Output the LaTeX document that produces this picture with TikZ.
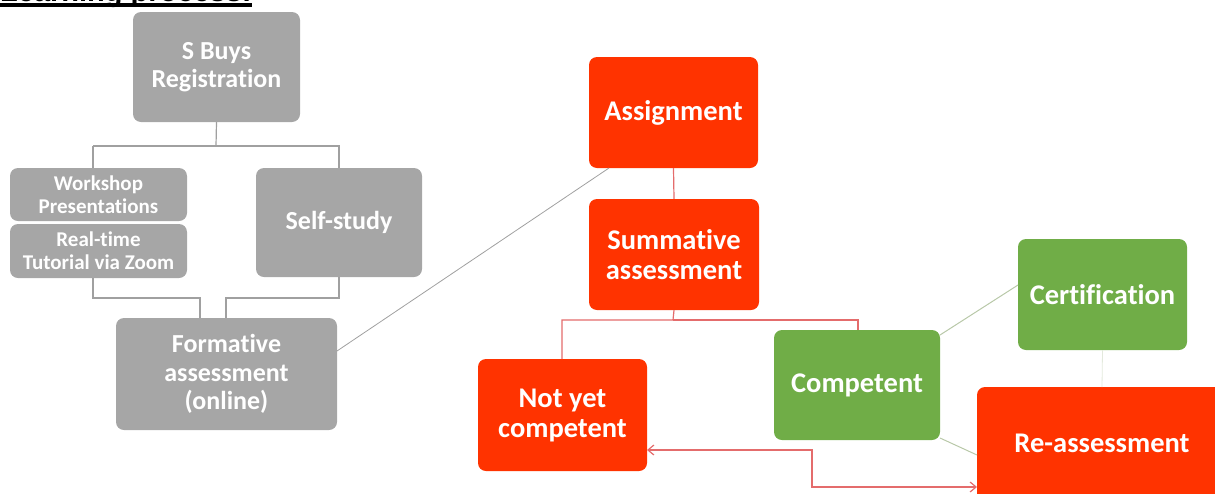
\documentclass[tikz,border=0pt]{standalone}
\usepackage{fontspec}
\setmainfont{Carlito}[RawFeature={-liga;-clig;-calt;-dlig}]
\newfontfamily\titlefont{Liberation Sans}
\usetikzlibrary{arrows.meta}
\definecolor{boxgray}{HTML}{A6A6A6}
\definecolor{boxred}{HTML}{FF3300}
\definecolor{boxgreen}{HTML}{70AD47}
\definecolor{lngray}{HTML}{A0A0A0}
\definecolor{lnred}{HTML}{E46C6C}
\definecolor{lngreen}{HTML}{B8C8A8}
\tikzset{
  box/.style={rounded corners=8pt, text=white, font=\bfseries, align=center, inner sep=0pt},
  gbox/.style={box, fill=boxgray},
  rbox/.style={box, fill=boxred},
  grbox/.style={box, fill=boxgreen},
  big/.style={font=\fontsize{26}{28.5}\selectfont\bfseries},
  bigger/.style={font=\fontsize{28.5}{30}\selectfont\bfseries},
  small/.style={font=\fontsize{21}{23}\selectfont\bfseries},
  gline/.style={draw=lngray, line width=1.2pt},
  rline/.style={draw=lnred, line width=1.2pt},
  grline/.style={draw=lngreen, line width=1pt},
  arr/.style={rline, {Straight Barb[length=6pt,width=10pt]}-{Straight Barb[length=6pt,width=10pt]}}
}
\begin{document}
\begin{tikzpicture}[x=1pt,y=-1pt]
\useasboundingbox (0,0) rectangle (1215,493);
\clip (0,0) rectangle (1215,493);
% title (cut off at top, as in the reference)
\node[anchor=base west, inner sep=0pt, font=\titlefont\fontsize{29}{32}\selectfont\bfseries] (title) at (0,1.5) {Learning process:};
\fill (0,2.5) rectangle (title.east |- 0,6.5);
% nodes
\node[gbox, big, minimum width=167pt, minimum height=110pt] (reg) at (216.5,67) {S Buys\\Registration};
\node[gbox, small, minimum width=177pt, minimum height=53pt] (work) at (98.5,194.5) {Workshop\\Presentations};
\node[gbox, small, minimum width=177pt, minimum height=54pt] (zoom) at (98.5,251) {Real-time\\Tutorial via Zoom};
\node[gbox, big, minimum width=166pt, minimum height=109pt] (self) at (339,222.5) {Self-study};
\node[gbox, big, minimum width=221pt, minimum height=112pt] (form) at (226.5,374) {Formative\\assessment\\(online)};
\node[rbox, bigger, minimum width=169pt, minimum height=111pt] (assign) at (673.5,112.5) {Assignment};
\node[rbox, bigger, minimum width=170pt, minimum height=111pt] (summ) at (674,254.5) {Summative\\assessment};
\node[rbox, bigger, minimum width=169pt, minimum height=112pt] (nyc) at (562.5,415) {Not yet\\competent};
\node[grbox, bigger, minimum width=166pt, minimum height=110pt] (comp) at (857,385) {Competent};
\node[grbox, bigger, minimum width=169pt, minimum height=111pt] (cert) at (1102.5,294.5) {Certification};
\node[rbox, bigger, minimum width=250pt, minimum height=114pt] (reas) at (1102,444) {};
\node[font=\fontsize{28.5}{30}\selectfont\bfseries, text=white, inner sep=0pt] (reastext) at (1102,443) {Re-assessment};
% gray tree connectors
\coordinate (j1) at (216,146);
\coordinate (jl) at (93,146);
\coordinate (jr) at (339,146);
\draw[gline] (reg.south) -- (j1);
\draw[gline] (jl) -- (jr) -- (self.north);
\draw[gline] (jl) -- (93,168);
\coordinate (b1) at (93,298);
\coordinate (b2) at (200,298);
\coordinate (b3) at (339,298);
\coordinate (b4) at (226,298);
\draw[gline] (93,278) -- (b1) -- (b2) -- (200,318);
\draw[gline] (self.south) -- (b3) -- (b4) -- (226,318);
% formative to assignment
\coordinate (fe) at (337,351);
\coordinate (ab) at (609,168);
\draw[draw=lngray, line width=0.8pt] (fe) -- (ab);
% red tree
\draw[rline] (assign.south) -- (summ.north);
\coordinate (r1) at (673,320);
\draw[rline] (summ.south) -- (r1) -- (562,320) -- (562,359);
\draw[rline] (r1) -- (858,320) -- (858,330);
% green lines
\draw[grline] (940,335) -- (1018,285);
\draw[grline] (940,438) -- (977,455);
\draw[draw=lngreen!40, line width=0.8pt] (cert.south) -- (1102,387);
% arrows
\draw[arr] (647,450) -- (812,450) -- (812,487) -- (977,487);
\end{tikzpicture}
\end{document}
